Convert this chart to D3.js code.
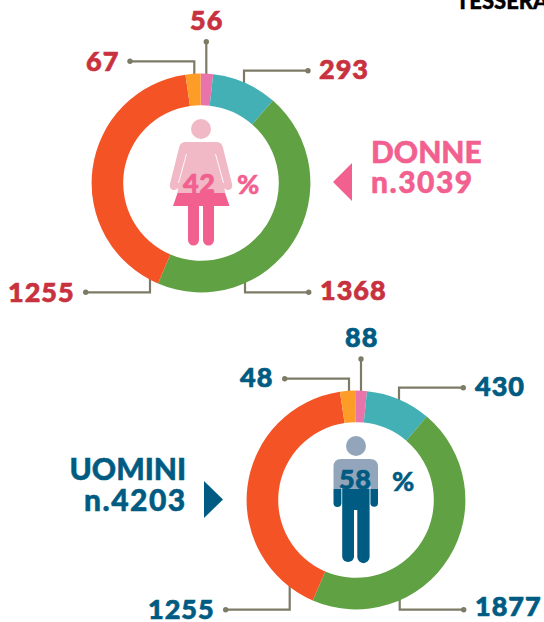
<!DOCTYPE html>
<html><head><meta charset="utf-8">
<script src="https://cdnjs.cloudflare.com/ajax/libs/d3/7.8.5/d3.min.js"></script>
<style>html,body{margin:0;padding:0;background:#fff}svg{display:block}text{font-family:Lato,sans-serif;font-weight:900}</style>
</head><body><svg id="c" width="544" height="622"></svg>
<script>
const categories=["Rosa","Turchese","Verde","Rosso","Arancio"];
const colors=["#e874ab","#43b0b6","#5fa143","#f45325","#fd9d27"];
const donneValues=[56,293,1368,1255,67];
// slice sizes as drawn in the picture; the printed numbers are in uominiLabels
const uominiValues=[72,403,1903,1731,94];
const donneLabels=["56","293","1368","1255","67"];
const uominiLabels=["88","430","1877","1255","48"];
const svg=d3.select("#c");
const line="#7d7b66";
function donut(cx,cy,vals,start){
 const pie=d3.pie().sort(null).startAngle(start).endAngle(start+2*Math.PI)(vals);
 const arc=d3.arc().innerRadius(77.8).outerRadius(109.4);
 const g=svg.append("g").attr("transform",`translate(${cx},${cy})`);
 g.selectAll("path").data(pie).join("path").attr("d",arc).attr("fill",(d,i)=>colors[i]);
}
function leader(pts){
 svg.append("path").attr("d",d3.line()(pts)).attr("fill","none").attr("stroke",line).attr("stroke-width",2.2);
 const e=pts[pts.length-1];
 svg.append("circle").attr("cx",e[0]).attr("cy",e[1]).attr("r",2.7).attr("fill",line);
}
function label(t,x,y,col,anchor="start",size=27,ls=1,sw=0.7){
 svg.append("text").attr("x",x).attr("y",y).attr("fill",col).attr("stroke",col).attr("stroke-width",sw)
  .attr("font-size",size).attr("text-anchor",anchor).attr("letter-spacing",ls).text(t);
}
const red="#c8323f",pink="#f2608f",pinkL="#f1b8c6",blue="#005b82",blueL="#93a5bb";
// leaders
leader([[206.3,80],[206.3,41.7]]);
leader([[194.3,80],[194.3,61.3],[130,61.3]]);
leader([[244,90],[244,70.7],[308,70.7]]);
leader([[245,280],[245,292.3],[308.7,292.3]]);
leader([[150,270],[150,292.3],[85.7,292.3]]);
leader([[361,400],[361,359]]);
leader([[349,400],[349,378.7],[284.7,378.7]]);
leader([[399,405],[399,387.7],[463.3,387.7]]);
leader([[399.7,595],[399.7,609.7],[463.7,609.7]]);
leader([[289.7,585],[289.7,609.7],[225.7,609.7]]);
donut(201,183,donneValues,-0.004);
donut(356,500,uominiValues,-0.007);
// numbers
label(donneLabels[0],190,30,red);
label(donneLabels[4],86,70.7,red);
label(donneLabels[1],319,79.3,red);
label(donneLabels[2],320,300,red);
label(donneLabels[3],8,302,red);
label(uominiLabels[0],345,346.7,blue);
label(uominiLabels[4],240,386.7,blue);
label(uominiLabels[1],475,395.7,blue);
label(uominiLabels[2],475,616,blue);
label(uominiLabels[3],148,618.7,blue);
// titles
label("DONNE",371,163,pink,"start",30,0,0.5);
label("n.3039",371,192.500,pink,"start",30,1.5,0.5);
label("UOMINI",69.500,480,blue,"start",30,0,0.5);
label("n.4203",84,511,blue,"start",30,1.5,0.5);
svg.append("path").attr("d","M352,163L352,201L333,182Z").attr("fill",pink);
svg.append("path").attr("d","M204,481L204,518L223,499.5Z").attr("fill",blue);
label("TESSERA",456,9,"#000","start",22,0,0.4);
// figures
const defs=svg.append("defs");
defs.append("clipPath").attr("id","wT").append("rect").attr("x",0).attr("y",0).attr("width",544).attr("height",193);
defs.append("clipPath").attr("id","wB").append("rect").attr("x",0).attr("y",193).attr("width",544).attr("height",100);
defs.append("clipPath").attr("id","mT").append("rect").attr("x",0).attr("y",320).attr("width",544).attr("height",169);
defs.append("clipPath").attr("id","mB").append("rect").attr("x",0).attr("y",489).attr("width",544).attr("height",131);
function woman(g){
 g.append("circle").attr("cx",201).attr("cy",129).attr("r",10);
 g.append("path").attr("d","M186,142 H216 Q221,142 222.5,146 L232,184 Q233,189 229,190 Q226,190.5 224.500,188 L225,193 L229.500,206 H173 L177.500,193 L178,188 Q176,190.500 173,190 Q169,189 170,184 L179.500,146 Q181,142 186,142Z");
 g.append("path").attr("d","M188,205 H199 V240 A5.500,5.500 0 0 1 188,240Z");
 g.append("path").attr("d","M203,205 H214 V240 A5.500,5.500 0 0 1 203,240Z");
 g.append("path").attr("d","M186.500,154 L178.500,183").attr("fill","none").attr("stroke","#fff").attr("stroke-width",0.9);
 g.append("path").attr("d","M215.500,154 L223.500,183").attr("fill","none").attr("stroke","#fff").attr("stroke-width",0.9);
}
function man(g){
 g.append("circle").attr("cx",356).attr("cy",446).attr("r",10);
 g.append("path").attr("d","M341,459 H370 Q378,459 378,467 V503 A3.800,3.800 0 0 1 370.400,503 V486 H369.600 V557 A6,6 0 0 1 357.300,557 V510 H354 V557 A6,6 0 0 1 342.200,557 V486 H341.400 V503 A3.800,3.800 0 0 1 333.500,503 V467 Q333.500,459 341,459Z");
}
woman(svg.append("g").attr("clip-path","url(#wT)").attr("fill",pinkL));
woman(svg.append("g").attr("clip-path","url(#wB)").attr("fill",pink));
man(svg.append("g").attr("clip-path","url(#mT)").attr("fill",blueL));
man(svg.append("g").attr("clip-path","url(#mB)").attr("fill",blue));
label("42",183,192.500,pink,"start",27,0.5,0.7);
label("%",237,194,pink,"start",27,0,0.5);
label("58",339,489,blue,"start",27,0.5,0.7);
label("%",392,490.500,blue,"start",27,0,0.5);
</script></body></html>
